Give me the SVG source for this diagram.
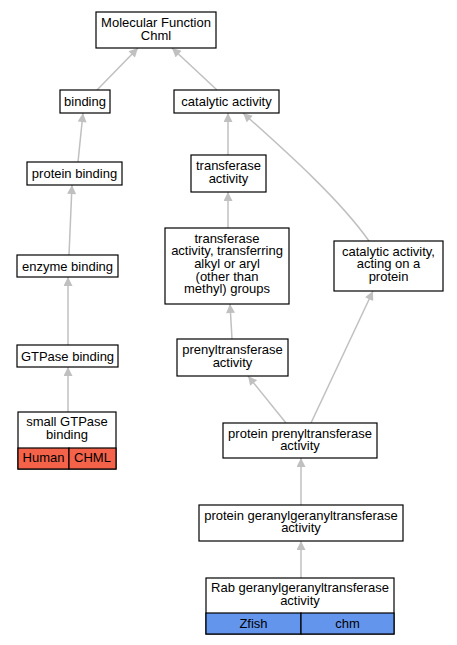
<svg xmlns="http://www.w3.org/2000/svg" width="457" height="645" viewBox="0 0 457 645">
<defs>
<marker id="arr" viewBox="0 0 10 10" refX="10" refY="5" markerWidth="10" markerHeight="9" markerUnits="userSpaceOnUse" orient="auto">
<path d="M0,0 L10,5 L0,10 Z" fill="#c0c0c0"/>
</marker>
<style>
.box{fill:#ffffff;stroke:#000000;stroke-width:1.2}
.hum{fill:#f4624a;stroke:#000000;stroke-width:1.2}
.zf{fill:#6495ed;stroke:#000000;stroke-width:1.2}
text{font-family:"Liberation Sans",Arial,sans-serif;font-size:13px;text-anchor:middle;fill:#000000}
.e{fill:none;stroke:#c0c0c0;stroke-width:1.5;marker-end:url(#arr)}
</style>
</defs>
<rect width="457" height="645" fill="#ffffff"/>
<g id="edges">
<path class="e" d="M97,90 L138,48"/>
<path class="e" d="M217,90 L172,48"/>
<path class="e" d="M78,162 L83,113"/>
<path class="e" d="M228,155 L228,113"/>
<path class="e" d="M369,241 C340,200 290,155 243,113"/>
<path class="e" d="M69,255 L72,185"/>
<path class="e" d="M228,228 L228,192"/>
<path class="e" d="M68,345 L68,277"/>
<path class="e" d="M232,339 L230,304"/>
<path class="e" d="M68,412 L68,367"/>
<path class="e" d="M286,423 L248,376"/>
<path class="e" d="M311,423 L373,291"/>
<path class="e" d="M301,505 L301,458"/>
<path class="e" d="M301,578 L301,541"/>
</g>
<g id="mf"><rect class="box" x="96" y="12" width="120" height="36"/><text x="156" y="27">Molecular Function</text><text x="156" y="39.5">Chml</text></g>
<g id="binding"><rect class="box" x="60" y="90" width="50" height="23"/><text x="85" y="106">binding</text></g>
<g id="catalytic"><rect class="box" x="174" y="90" width="105" height="23"/><text x="226.5" y="106">catalytic activity</text></g>
<g id="proteinbinding"><rect class="box" x="27" y="162" width="95" height="23"/><text x="74.5" y="178">protein binding</text></g>
<g id="transferase"><rect class="box" x="191" y="155" width="75" height="37"/><text x="228.5" y="170">transferase</text><text x="228.5" y="182.5">activity</text></g>
<g id="enzymebinding"><rect class="box" x="17" y="255" width="101" height="22"/><text x="67.5" y="270.5">enzyme binding</text></g>
<g id="transferring"><rect class="box" x="165" y="228" width="124" height="76"/><text x="227" y="242.5">transferase</text><text x="227" y="255.2">activity, transferring</text><text x="227" y="267.9">alkyl or aryl</text><text x="227" y="280.6">(other than</text><text x="227" y="293.3">methyl) groups</text></g>
<g id="catacting"><rect class="box" x="334" y="241" width="109" height="50"/><text x="388.5" y="255.5">catalytic activity,</text><text x="388.5" y="268.2">acting on a</text><text x="388.5" y="280.9">protein</text></g>
<g id="gtpasebinding"><rect class="box" x="17" y="345" width="101" height="22"/><text x="67.5" y="360.5">GTPase binding</text></g>
<g id="prenyl"><rect class="box" x="177" y="339" width="111" height="37"/><text x="232.5" y="354">prenyltransferase</text><text x="232.5" y="366.5">activity</text></g>
<g id="smallgtpase"><rect class="box" x="18" y="412" width="98" height="57"/><text x="67" y="426">small GTPase</text><text x="67" y="438.5">binding</text><rect class="hum" x="18" y="448" width="51" height="21"/><rect class="hum" x="69" y="448" width="47" height="21"/><text x="43.5" y="462">Human</text><text x="92.5" y="462">CHML</text></g>
<g id="proteinprenyl"><rect class="box" x="223" y="423" width="154" height="35"/><text x="300" y="437.5">protein prenyltransferase</text><text x="300" y="450">activity</text></g>
<g id="proteingeranyl"><rect class="box" x="199" y="505" width="204" height="36"/><text x="301" y="519.5">protein geranylgeranyltransferase</text><text x="301" y="532">activity</text></g>
<g id="rab"><rect class="box" x="206" y="578" width="188" height="56"/><text x="300" y="592">Rab geranylgeranyltransferase</text><text x="300" y="604.5">activity</text><rect class="zf" x="206" y="613" width="95" height="21"/><rect class="zf" x="301" y="613" width="93" height="21"/><text x="253.5" y="627.5">Zfish</text><text x="347.5" y="627.5">chm</text></g>
</svg>
